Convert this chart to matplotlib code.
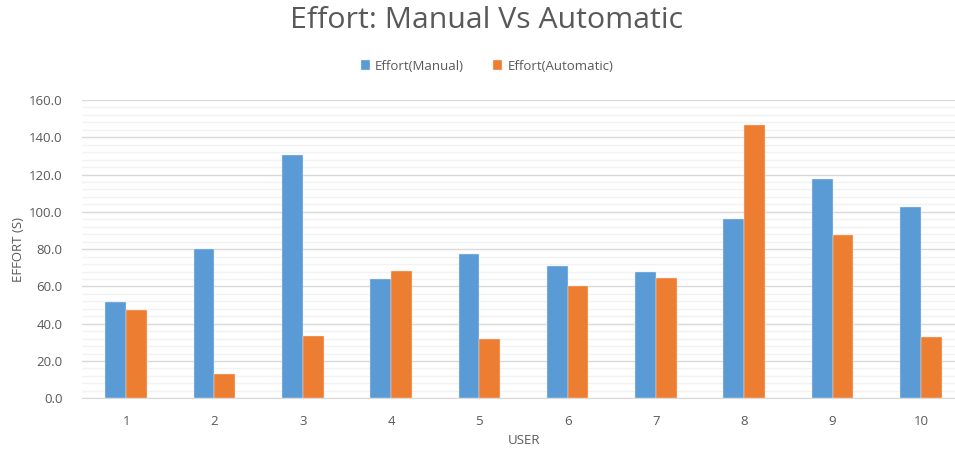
import matplotlib
matplotlib.use("Agg")
import matplotlib.pyplot as plt
import numpy as np
from matplotlib.ticker import MultipleLocator, FormatStrFormatter

users = ["1", "2", "3", "4", "5", "6", "7", "8", "9", "10"]
manual = [51.8, 79.9, 130.4, 63.8, 77.3, 70.8, 67.9, 96.0, 117.8, 102.4]
automatic = [47.2, 12.9, 33.4, 68.5, 31.8, 60.4, 64.4, 146.6, 87.4, 32.9]
series_names = ["Effort(Manual)", "Effort(Automatic)"]

plt.rcParams['font.family'] = ['Open Sans', 'DejaVu Sans']
TXT = '#595959'
BLUE = '#5B9BD5'
ORANGE = '#ED7D31'

fig = plt.figure(figsize=(9.55, 4.51), dpi=100)
ax = fig.add_axes([82/955, 52.7/451, 883/955, 298.3/451])

x = np.arange(len(users))
w = 0.235
ax.bar(x - w/2, manual, w, color=BLUE, edgecolor='#DDEBF7', linewidth=0.3, label=series_names[0], zorder=3)
ax.bar(x + w/2, automatic, w, color=ORANGE, edgecolor='#FBE5D6', linewidth=0.3, label=series_names[1], zorder=3)

ax.set_xlim(-0.5, len(users) - 0.5)
ax.set_ylim(0, 160)
ax.yaxis.set_major_locator(MultipleLocator(20))
ax.yaxis.set_minor_locator(MultipleLocator(4))
ax.yaxis.set_major_formatter(FormatStrFormatter('%.1f'))
ax.grid(axis='y', which='major', color='#D9D9D9', linewidth=1.0, zorder=0)
ax.grid(axis='y', which='minor', color='#F2F2F2', linewidth=1.0, zorder=0)
ax.set_xticks(x)
ax.set_xticklabels(users)
ax.tick_params(axis='both', which='both', length=0, colors=TXT, labelsize=9.5)
ax.tick_params(axis='x', pad=12)
ax.tick_params(axis='y', pad=14)
for s in ['top', 'right', 'left']:
    ax.spines[s].set_visible(False)
ax.spines['bottom'].set_color('#D9D9D9')
ax.set_axisbelow(True)

fig.text(18/955, 1 - 250/451, 'EFFORT (S)', rotation=90, ha='center', va='center', color=TXT, fontsize=9.5)
fig.text(524/955, 1 - 441/451, 'USER', ha='center', va='center', color=TXT, fontsize=9.5)
fig.text(486/955, 1 - 20/451, 'Effort: Manual Vs Automatic', ha='center', va='center', color=TXT, fontsize=21.8)

leg = fig.legend(loc='center', bbox_to_anchor=(487/955, 1 - 66/451), ncol=2, frameon=False,
                 fontsize=9.5, handlelength=0.7, handleheight=0.7, columnspacing=2.2, handletextpad=0.4)
for t in leg.get_texts():
    t.set_color(TXT)

fig.savefig('out.png', dpi=100, facecolor='white')
